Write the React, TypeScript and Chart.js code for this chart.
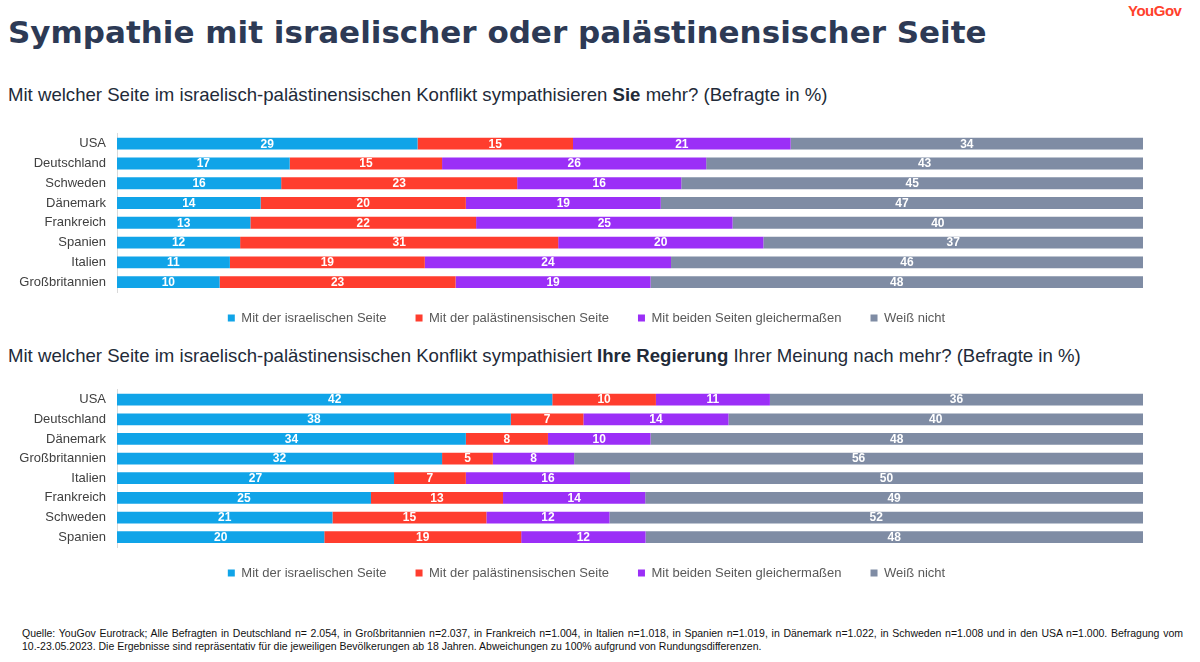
import React, { useEffect, useRef } from "react";
import { Chart, registerables } from "chart.js";

Chart.register(...registerables);

const seriesNames = [
  "Mit der israelischen Seite",
  "Mit der palästinensischen Seite",
  "Mit beiden Seiten gleichermaßen",
  "Weiß nicht",
];
const seriesColors = ["#10a4e8", "#ff3d2e", "#9b2ff7", "#7f8ca4"];

const countries1 = ["USA", "Deutschland", "Schweden", "Dänemark", "Frankreich", "Spanien", "Italien", "Großbritannien"];
const israel1 = [29, 17, 16, 14, 13, 12, 11, 10];
const palestine1 = [15, 15, 23, 20, 22, 31, 19, 23];
const both1 = [21, 26, 16, 19, 25, 20, 24, 19];
const dontKnow1 = [34, 43, 45, 47, 40, 37, 46, 48];

const countries2 = ["USA", "Deutschland", "Dänemark", "Großbritannien", "Italien", "Frankreich", "Schweden", "Spanien"];
const israel2 = [42, 38, 34, 32, 27, 25, 21, 20];
const palestine2 = [10, 7, 8, 5, 7, 13, 15, 19];
const both2 = [11, 14, 10, 8, 16, 14, 12, 12];
const dontKnow2 = [36, 40, 48, 56, 50, 49, 52, 48];

const FONT = "'Liberation Sans', Arial, Helvetica, sans-serif";

const valueLabels = {
  id: "valueLabels",
  afterDatasetsDraw(chart: any) {
    const ctx = chart.ctx;
    ctx.save();
    ctx.fillStyle = "#ffffff";
    ctx.font = `bold 12px ${FONT}`;
    ctx.textAlign = "center";
    ctx.textBaseline = "middle";
    chart.data.datasets.forEach((ds: any, i: number) => {
      const meta = chart.getDatasetMeta(i);
      meta.data.forEach((bar: any, j: number) => {
        const v = ds.rawValues[j];
        const cx = (bar.x + bar.base) / 2;
        ctx.fillText(String(v), cx, bar.y + 0.5);
      });
    });
    ctx.restore();
  },
};

// Pull the legend a little closer to the bars and nudge it right
const legendShift = {
  id: "legendShift",
  afterLayout(chart: any) {
    const lg = chart.legend;
    if (lg) {
      lg.top -= 9.5;
      lg.bottom -= 9.5;
      lg.left += 15;
      lg.right += 15;
    }
  },
};

function StackedChart({ labels, series, height }: { labels: string[]; series: number[][]; height: number }) {
  const ref = useRef<HTMLCanvasElement | null>(null);
  useEffect(() => {
    if (!ref.current) return;
    const totals = labels.map((_, j) => series.reduce((s, arr) => s + arr[j], 0));
    const chart = new Chart(ref.current, {
      type: "bar",
      data: {
        labels,
        datasets: series.map((arr, i) => ({
          label: seriesNames[i],
          data: arr.map((v, j) => (v / totals[j]) * 100),
          rawValues: arr,
          backgroundColor: seriesColors[i],
          borderWidth: 0,
          barPercentage: 0.6,
          categoryPercentage: 1,
        })) as any,
      },
      options: {
        indexAxis: "y",
        animation: false,
        responsive: false,
        maintainAspectRatio: false,
        layout: { padding: { top: 0, right: 57, left: 0, bottom: 0 } },
        plugins: {
          tooltip: { enabled: false },
          legend: {
            position: "bottom",
            labels: {
              boxWidth: 7,
              boxHeight: 7,
              padding: 29,
              color: "#595959",
              font: { family: FONT, size: 13 },
            },
          },
        },
        scales: {
          x: { stacked: true, min: 0, max: 100, display: false },
          y: {
            stacked: true,
            grid: { display: false, drawTicks: false },
            border: { display: true, color: "#d9d9d9", width: 1 },
            ticks: { color: "#404040", padding: 11, font: { family: FONT, size: 13 } },
            afterFit: (s: any) => {
              s.width = 117;
            },
          },
        },
      },
      plugins: [valueLabels, legendShift],
    });
    return () => chart.destroy();
  }, []);
  return <canvas ref={ref} width={1200} height={height} style={{ display: "block", width: 1200, height }} />;
}

export default function App() {
  return (
    <div style={{ position: "absolute", left: 0, top: 0, width: 1200, height: 662, background: "#fff", overflow: "hidden", fontFamily: FONT }}>
      <div style={{ position: "absolute", left: 8, top: 17, fontSize: 31, lineHeight: "31px", fontWeight: "bold", color: "#2d3a55", whiteSpace: "nowrap", fontFamily: "'DejaVu Sans', " + FONT }}>
        Sympathie mit israelischer oder palästinensischer Seite
      </div>
      <div style={{ position: "absolute", left: 1128, top: 3, fontSize: 15, lineHeight: "16px", fontWeight: "bold", color: "#ff412c", letterSpacing: -0.5, whiteSpace: "nowrap" }}>
        YouGov
      </div>
      <div style={{ position: "absolute", left: 8, top: 85, fontSize: 18.6, lineHeight: "19px", color: "#222a38", whiteSpace: "nowrap" }}>
        Mit welcher Seite im israelisch-palästinensischen Konflikt sympathisieren <b>Sie</b> mehr? (Befragte in %)
      </div>
      <div style={{ position: "absolute", left: 0, top: 115 }}>
        <StackedChart labels={countries1} series={[israel1, palestine1, both1, dontKnow1]} height={229} />
      </div>
      <div style={{ position: "absolute", left: 8, top: 346, fontSize: 18.6, lineHeight: "19px", color: "#222a38", whiteSpace: "nowrap" }}>
        Mit welcher Seite im israelisch-palästinensischen Konflikt sympathisiert <b>Ihre Regierung</b> Ihrer Meinung nach mehr? (Befragte in %)
      </div>
      <div style={{ position: "absolute", left: 0, top: 371 }}>
        <StackedChart labels={countries2} series={[israel2, palestine2, both2, dontKnow2]} height={228} />
      </div>
      <div style={{ position: "absolute", left: 22, top: 627, width: 1161, fontSize: 10.5, lineHeight: "13px", color: "#111", fontFamily: "'Liberation Sans Narrow', 'Arial Narrow', " + FONT }}>
        <div style={{ textAlign: "justify", textAlignLast: "justify", whiteSpace: "nowrap" as any }}>
          Quelle: YouGov Eurotrack; Alle Befragten in Deutschland n= 2.054, in Großbritannien n=2.037, in Frankreich n=1.004, in Italien n=1.018, in Spanien n=1.019, in Dänemark n=1.022, in Schweden n=1.008 und in den USA n=1.000. Befragung vom
        </div>
        <div style={{ textAlign: "left" }}>
          10.-23.05.2023. Die Ergebnisse sind repräsentativ für die jeweiligen Bevölkerungen ab 18 Jahren. Abweichungen zu 100% aufgrund von Rundungsdifferenzen.
        </div>
      </div>
    </div>
  );
}
